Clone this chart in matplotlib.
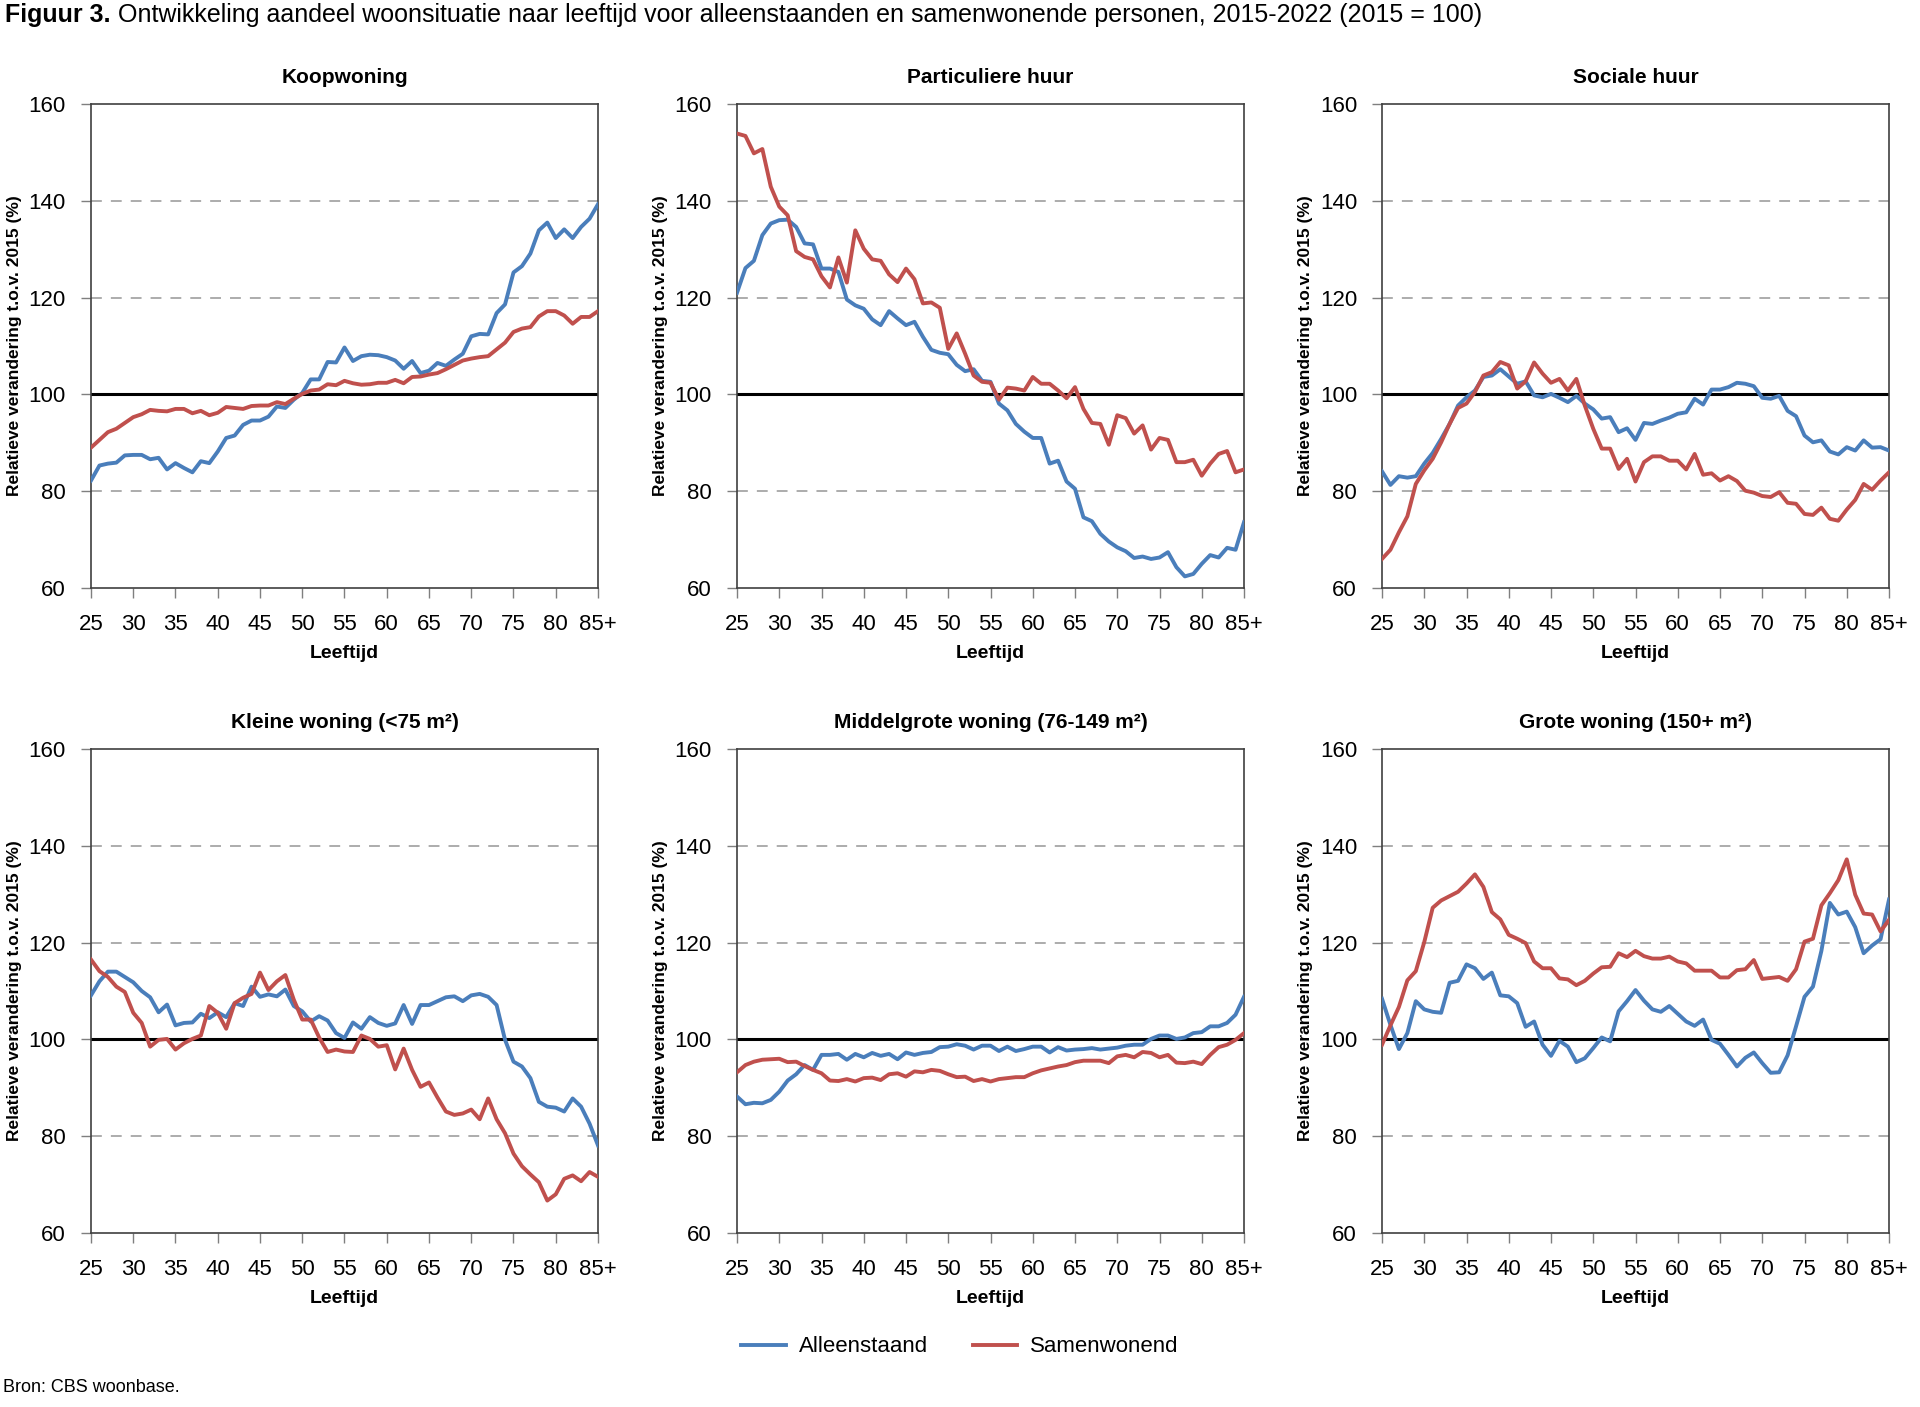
import matplotlib
matplotlib.use("Agg")
import matplotlib.pyplot as plt
import numpy as np

plt.rcParams['font.family'] = ['Liberation Sans', 'DejaVu Sans']

ages = list(range(25, 86))
xtick_vals = [25, 30, 35, 40, 45, 50, 55, 60, 65, 70, 75, 80, 85]
xtick_labels = ['25', '30', '35', '40', '45', '50', '55', '60', '65', '70', '75', '80', '85+']
ytick_vals = [60, 80, 100, 120, 140, 160]

panel_titles = ['Koopwoning', 'Particuliere huur', 'Sociale huur',
                'Kleine woning (<75 m²)', 'Middelgrote woning (76-149 m²)', 'Grote woning (150+ m²)']
series_labels = ['Alleenstaand', 'Samenwonend']

koop_alleen = [82.2, 85.3, 85.7, 85.9, 87.4, 87.5, 87.5, 86.6, 86.9, 84.5, 85.8, 84.8, 83.9, 86.2, 85.8,
               88.2, 91.0, 91.5, 93.7, 94.6, 94.6, 95.4, 97.5, 97.2, 98.9, 100.3, 103.1, 103.1, 106.7, 106.6,
               109.7, 106.9, 107.9, 108.2, 108.1, 107.7, 107.0, 105.3, 106.9, 104.4, 104.9, 106.5, 105.9, 107.2,
               108.4, 112.0, 112.5, 112.4, 116.8, 118.6, 125.2, 126.5, 129.1, 133.9, 135.5, 132.3, 134.1, 132.3,
               134.6, 136.3, 139.3]
koop_samen = [89.0, 90.6, 92.2, 92.9, 94.1, 95.3, 95.9, 96.8, 96.6, 96.5, 97.0, 97.0, 96.1, 96.6, 95.7,
              96.2, 97.4, 97.2, 97.0, 97.6, 97.7, 97.7, 98.4, 98.0, 99.1, 100.1, 100.8, 101.0, 102.1, 101.9,
              102.8, 102.3, 102.0, 102.1, 102.4, 102.4, 103.0, 102.3, 103.6, 103.7, 104.1, 104.4, 105.2, 106.1,
              107.0, 107.4, 107.7, 107.9, 109.3, 110.7, 112.9, 113.6, 113.9, 116.1, 117.2, 117.2, 116.3, 114.6,
              116.0, 116.0, 117.2]

part_alleen = [121.0, 126.1, 127.6, 132.9, 135.3, 136.0, 136.1, 134.6, 131.2, 131.0, 126.0, 126.0, 125.3, 119.6, 118.4,
               117.7, 115.5, 114.3, 117.2, 115.7, 114.3, 115.0, 111.9, 109.2, 108.6, 108.3, 106.1, 104.8, 105.2, 102.8,
               102.6, 98.1, 96.7, 93.9, 92.3, 91.0, 91.0, 85.7, 86.3, 82.0, 80.5, 74.6, 73.8, 71.2,
               69.6, 68.4, 67.6, 66.2, 66.5, 66.0, 66.3, 67.4, 64.3, 62.4, 62.9, 65.0, 66.8, 66.3,
               68.3, 67.9, 73.6]
part_samen = [153.9, 153.4, 149.8, 150.7, 142.9, 138.8, 137.0, 129.6, 128.4, 127.9, 124.4, 122.1, 128.3, 123.1, 133.9,
              130.1, 127.9, 127.6, 124.8, 123.2, 126.0, 123.8, 118.8, 119.0, 117.9, 109.4, 112.6, 108.4, 103.9, 102.6,
              102.4, 98.9, 101.4, 101.2, 100.8, 103.6, 102.2, 102.2, 100.8, 99.2, 101.5, 97.0, 94.1, 93.9,
              89.6, 95.7, 95.1, 91.9, 93.6, 88.6, 91.0, 90.6, 86.0, 86.0, 86.5, 83.2, 85.7, 87.7,
              88.3, 83.9, 84.5]

soc_alleen = [84.1, 81.3, 83.1, 82.8, 83.1, 85.7, 87.9, 90.8, 93.9, 97.7, 99.4, 100.8, 103.6, 103.9, 105.2,
              103.7, 102.2, 102.7, 99.8, 99.4, 100.1, 99.3, 98.4, 99.7, 98.1, 96.9, 95.0, 95.3, 92.2, 93.0,
              90.6, 94.1, 93.9, 94.6, 95.2, 96.0, 96.3, 99.1, 97.9, 101.0, 101.0, 101.5, 102.4, 102.2,
              101.7, 99.3, 99.1, 99.7, 96.6, 95.5, 91.5, 90.1, 90.5, 88.2, 87.6, 89.1, 88.4, 90.5,
              89.0, 89.1, 88.4]
soc_samen = [66.0, 67.9, 71.5, 74.8, 81.5, 84.3, 86.7, 90.1, 93.9, 97.2, 98.1, 100.5, 103.9, 104.6, 106.7,
             106.0, 101.2, 102.7, 106.6, 104.3, 102.4, 103.2, 100.8, 103.2, 97.7, 92.9, 88.8, 88.8, 84.6, 86.7,
             82.0, 86.0, 87.2, 87.2, 86.3, 86.3, 84.5, 87.7, 83.4, 83.7, 82.2, 83.1, 82.1, 80.1,
             79.7, 79.0, 78.8, 79.8, 77.6, 77.4, 75.3, 75.1, 76.6, 74.3, 73.9, 76.2, 78.2, 81.5,
             80.3, 82.2, 83.9]

klein_alleen = [109.1, 112.0, 114.0, 114.0, 112.9, 111.8, 110.0, 108.7, 105.6, 107.2, 102.9, 103.4, 103.5, 105.3, 104.4,
                105.6, 104.6, 107.5, 106.9, 110.9, 108.8, 109.3, 108.9, 110.3, 106.9, 105.8, 103.7, 104.8, 103.9, 101.3,
                100.3, 103.5, 102.2, 104.6, 103.4, 102.8, 103.3, 107.1, 103.2, 107.1, 107.1, 107.9, 108.7, 108.9,
                107.9, 109.1, 109.4, 108.8, 107.1, 99.9, 95.4, 94.4, 92.0, 87.1, 86.1, 85.9, 85.1, 87.8,
                86.1, 82.6, 78.1]
klein_samen = [116.5, 114.1, 112.9, 110.9, 109.8, 105.5, 103.4, 98.5, 99.9, 100.1, 97.9, 99.2, 100.1, 100.8, 106.9,
               105.5, 102.2, 107.5, 108.6, 109.4, 113.8, 110.2, 112.0, 113.3, 108.2, 104.1, 104.1, 100.4, 97.4, 97.9,
               97.5, 97.4, 100.8, 100.1, 98.5, 98.8, 93.8, 98.1, 93.7, 90.2, 91.1, 88.0, 85.1, 84.4,
               84.7, 85.5, 83.5, 87.8, 83.5, 80.6, 76.4, 73.8, 72.1, 70.5, 66.7, 68.0, 71.2, 71.9,
               70.7, 72.6, 71.6]

middel_alleen = [88.2, 86.6, 86.9, 86.8, 87.5, 89.2, 91.5, 92.8, 94.7, 93.7, 96.8, 96.8, 97.0, 95.8, 97.0,
                 96.3, 97.2, 96.6, 97.0, 95.9, 97.3, 96.8, 97.2, 97.4, 98.4, 98.5, 99.0, 98.7, 97.9, 98.7,
                 98.7, 97.6, 98.5, 97.6, 98.0, 98.5, 98.5, 97.3, 98.4, 97.7, 97.9, 98.0, 98.2, 97.9,
                 98.1, 98.3, 98.7, 98.9, 98.9, 100.1, 100.8, 100.8, 100.1, 100.4, 101.3, 101.5, 102.7, 102.7,
                 103.4, 105.1, 108.8]
middel_samen = [93.2, 94.7, 95.4, 95.8, 95.9, 96.0, 95.3, 95.4, 94.5, 93.7, 93.0, 91.5, 91.4, 91.8, 91.3,
                92.0, 92.1, 91.6, 92.8, 93.0, 92.3, 93.4, 93.2, 93.7, 93.5, 92.8, 92.2, 92.3, 91.4, 91.8,
                91.3, 91.8, 92.0, 92.2, 92.2, 93.0, 93.6, 94.0, 94.4, 94.7, 95.3, 95.6, 95.6, 95.6,
                95.1, 96.5, 96.8, 96.3, 97.4, 97.2, 96.3, 96.8, 95.2, 95.1, 95.4, 94.9, 96.8, 98.4,
                98.9, 99.9, 101.3]

groot_alleen = [108.4, 103.0, 98.0, 101.3, 107.9, 106.2, 105.7, 105.5, 111.7, 112.1, 115.5, 114.7, 112.5, 113.8, 109.1,
                108.9, 107.5, 102.6, 103.7, 98.9, 96.6, 99.7, 98.5, 95.3, 96.1, 98.2, 100.4, 99.6, 105.8, 107.9,
                110.2, 108.0, 106.2, 105.7, 106.9, 105.3, 103.7, 102.8, 104.1, 99.9, 99.1, 96.8, 94.4, 96.2,
                97.3, 95.1, 93.1, 93.2, 96.7, 102.7, 108.8, 110.9, 118.3, 128.2, 125.8, 126.4, 123.2, 117.8,
                119.4, 120.7, 128.9]
groot_samen = [98.9, 102.9, 106.7, 112.2, 114.1, 120.1, 127.2, 128.7, 129.6, 130.5, 132.2, 134.1, 131.5, 126.3, 124.8,
               121.6, 120.8, 119.9, 116.1, 114.7, 114.7, 112.6, 112.4, 111.2, 112.1, 113.6, 114.9, 115.0, 117.8, 117.0,
               118.3, 117.2, 116.7, 116.7, 117.1, 116.1, 115.7, 114.2, 114.2, 114.2, 112.8, 112.8, 114.3, 114.5,
               116.4, 112.5, 112.7, 112.9, 112.1, 114.5, 120.2, 120.8, 127.7, 130.2, 132.9, 137.2, 129.9, 126.0,
               125.8, 122.3, 124.7]

panels = [(koop_alleen, koop_samen), (part_alleen, part_samen), (soc_alleen, soc_samen),
          (klein_alleen, klein_samen), (middel_alleen, middel_samen), (groot_alleen, groot_samen)]

BLUE = '#4a7ebb'
RED = '#c0504d'

W, H = 1920, 1407
fig = plt.figure(figsize=(W / 100, H / 100), dpi=100)

lefts = [91, 737, 1382]
width_px = 507
tops = [104, 749]
height_px = 484

lines_for_legend = []
for i, (alleen, samen) in enumerate(panels):
    r, c = divmod(i, 3)
    l = lefts[c] / W
    b = 1 - (tops[r] + height_px) / H
    ax = fig.add_axes([l, b, width_px / W, height_px / H])
    ax.set_xlim(25, 85)
    ax.set_ylim(60, 160)
    for gy in [80, 120, 140]:
        ax.axhline(gy, color='#a6a6a6', lw=1.3, ls=(0, (6, 5)), zorder=1)
    ax.axhline(100, color='black', lw=2.2, zorder=2)
    l1, = ax.plot(ages, alleen, color=BLUE, lw=2.8, zorder=3, solid_joinstyle='round')
    l2, = ax.plot(ages, samen, color=RED, lw=2.8, zorder=3, solid_joinstyle='round')
    if i == 0:
        lines_for_legend = [l1, l2]
    ax.set_xticks(xtick_vals)
    ax.set_xticklabels(xtick_labels, fontsize=16)
    ax.set_yticks(ytick_vals)
    ax.set_yticklabels([str(v) for v in ytick_vals], fontsize=16)
    ax.tick_params(axis='both', direction='out', length=7, width=1, color='#7f7f7f')
    ax.tick_params(axis='x', pad=12)
    ax.tick_params(axis='y', pad=11)
    for s in ax.spines.values():
        s.set_color('#404040')
        s.set_linewidth(1.2)
    ax.set_title(panel_titles[i], fontsize=15, fontweight='bold', pad=15)
    ax.set_xlabel('Leeftijd', fontsize=14, fontweight='bold', labelpad=7)
    ax.set_ylabel('Relatieve verandering t.o.v. 2015 (%)', fontsize=12.5, fontweight='bold', labelpad=5)

fig.text(5 / W, 1 - 15 / H, 'Figuur 3.', fontsize=18, fontweight='bold', va='center', ha='left')
fig.text(118 / W, 1 - 15 / H,
         'Ontwikkeling aandeel woonsituatie naar leeftijd voor alleenstaanden en samenwonende personen, 2015-2022 (2015 = 100)',
         fontsize=18, va='center', ha='left')
fig.legend(lines_for_legend, series_labels, loc='center', bbox_to_anchor=(960 / W, 1 - 1347 / H),
           ncol=2, frameon=False, fontsize=16, handlelength=2.0, columnspacing=2.0, handletextpad=0.6)
fig.text(3 / W, 1 - 1387 / H, 'Bron: CBS woonbase.', fontsize=13, va='center', ha='left')

fig.savefig('out.png', dpi=100)
